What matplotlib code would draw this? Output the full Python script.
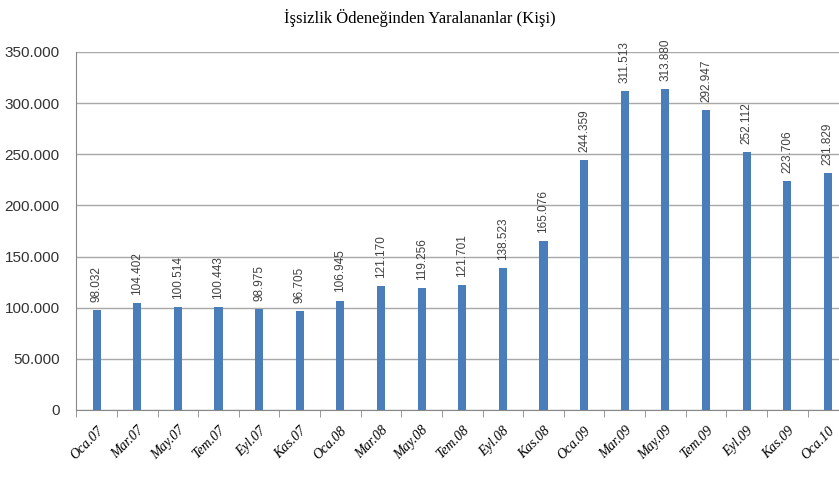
import numpy as np
import matplotlib
matplotlib.use("Agg")
import matplotlib.pyplot as plt
from matplotlib.ticker import FuncFormatter, MultipleLocator

months = ["Oca.07", "Mar.07", "May.07", "Tem.07", "Eyl.07", "Kas.07",
          "Oca.08", "Mar.08", "May.08", "Tem.08", "Eyl.08", "Kas.08",
          "Oca.09", "Mar.09", "May.09", "Tem.09", "Eyl.09", "Kas.09", "Oca.10"]
people = [98032, 104402, 100514, 100443, 98975, 96705,
          106945, 121170, 119256, 121701, 138523, 165076,
          244359, 311513, 313880, 292947, 252112, 223706, 231829]


def dotted(v, pos=None):
    return "{:,}".format(int(v)).replace(",", ".")


fig = plt.figure(figsize=(8.39, 4.78), dpi=100)
ax = fig.add_axes([0.091, 0.1423, 0.92, 0.749])

x = np.arange(len(people))
ax.bar(x, people, width=0.2, color="#4a7ebb", zorder=3)

for xi, v in zip(x, people):
    ax.text(xi, v + 8000, dotted(v), rotation=90, ha="center", va="bottom",
            fontsize=8.5, color="#404040", family="Liberation Sans")

ax.set_xlim(-0.5, len(people) - 0.5)
ax.set_ylim(0, 350000)
ax.yaxis.set_major_locator(MultipleLocator(50000))
ax.yaxis.set_major_formatter(FuncFormatter(dotted))
ax.grid(axis="y", color="#a8a8a8", linewidth=1, zorder=0)

ax.set_xticks(x)
ax.set_xticklabels(months, rotation=45, ha="right", rotation_mode="anchor",
                   fontsize=10, style="italic", family="Liberation Serif")
ax.set_xticks(np.arange(-0.5, len(people)), minor=True)
ax.tick_params(axis="x", which="major", length=0, pad=10)
ax.tick_params(axis="x", which="minor", length=5, color="#888888")
ax.tick_params(axis="y", length=0, pad=12, labelsize=11, labelcolor="#333333")
for lbl in ax.get_yticklabels():
    lbl.set_family("Liberation Sans")

for side in ["top", "right"]:
    ax.spines[side].set_visible(False)
ax.spines["left"].set_color("#888888")
ax.spines["bottom"].set_color("#888888")

fig.text(0.5, 0.962, "İşsizlik Ödeneğinden Yaralananlar (Kişi)", ha="center", va="center",
         fontsize=12, family="Liberation Serif")

fig.savefig("out.png", dpi=100)
